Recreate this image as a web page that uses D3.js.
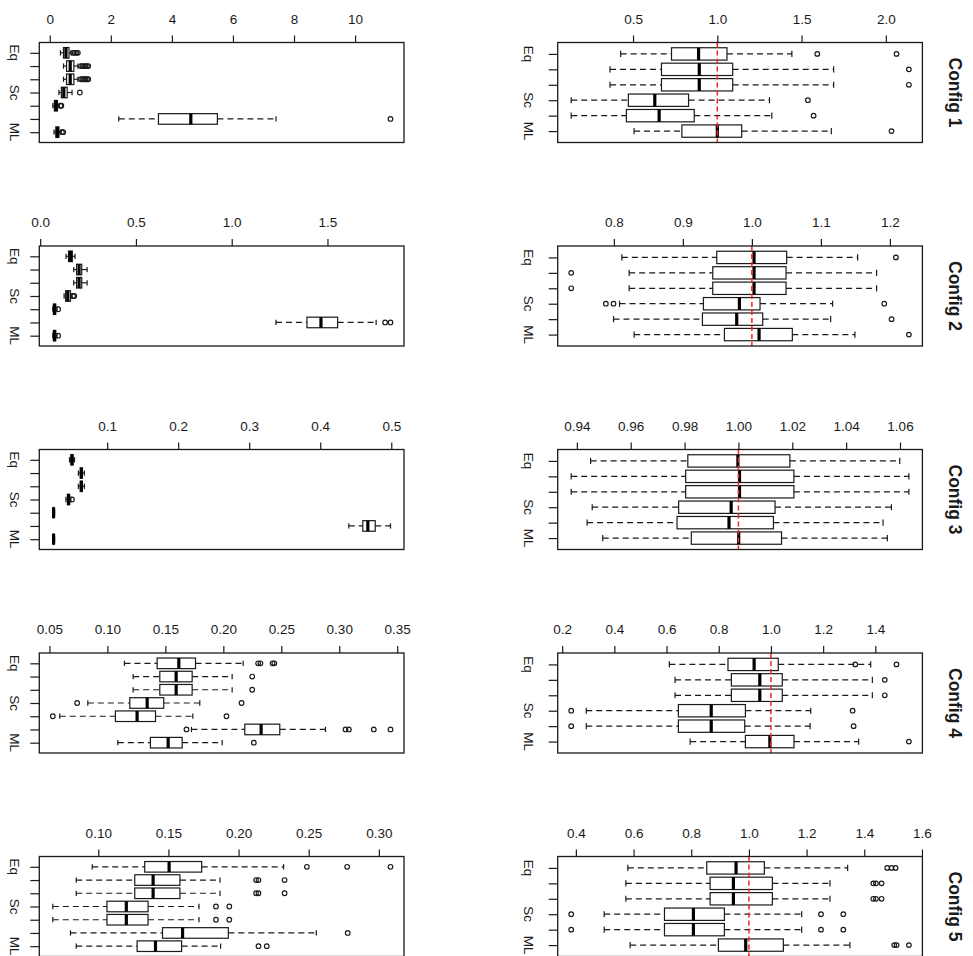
<!DOCTYPE html>
<html>
<head>
<meta charset="utf-8">
<script src="https://cdn.jsdelivr.net/npm/d3@7"></script>
<style>
  body { margin: 0; background: #fff; }
  svg { display: block; font-family: "Liberation Sans", Arial, Helvetica, sans-serif; }
</style>
</head>
<body>
<svg class="chart" width="973" height="956"></svg>
<script>
var configs = ["Config 1", "Config 2", "Config 3", "Config 4", "Config 5"];

// group labels, top to bottom (R only printed the ones that fit)
var absGroups   = ["Eq", "", "", "Sc", "", "", "ML"];
var ratioGroups = ["Eq", "", "", "Sc", "", "ML"];

// each row: [lower whisker, Q1, median, Q3, upper whisker, outliers]
var abs1 = [
  [0.35, 0.45, 0.53, 0.63, 0.70, [0.76, 0.82, 0.87, 0.92]],
  [0.45, 0.55, 0.67, 0.79, 0.92, [1.02, 1.07, 1.12, 1.17, 1.22, 1.26]],
  [0.45, 0.55, 0.67, 0.79, 0.92, [1.02, 1.07, 1.12, 1.17, 1.22, 1.26]],
  [0.30, 0.38, 0.46, 0.57, 0.73, [0.985]],
  [0.10, 0.15, 0.20, 0.25, 0.31, [0.35, 0.38]],
  [2.26, 3.56, 4.62, 5.49, 7.41, [11.16]],
  [0.14, 0.20, 0.25, 0.30, 0.36, [0.40, 0.44]]
];
var abs2 = [
  [0.135, 0.148, 0.158, 0.168, 0.182, []],
  [0.175, 0.190, 0.203, 0.217, 0.245, []],
  [0.175, 0.190, 0.203, 0.217, 0.245, []],
  [0.125, 0.133, 0.144, 0.158, 0.165, [0.172, 0.178]],
  [0.066, 0.069, 0.075, 0.081, 0.088, [0.094]],
  [1.231, 1.393, 1.466, 1.553, 1.754, [1.801, 1.829]],
  [0.066, 0.069, 0.075, 0.081, 0.088, [0.094]]
];
var abs3 = [
  [0.047, 0.049, 0.0505, 0.052, 0.054, []],
  [0.0595, 0.0622, 0.0637, 0.065, 0.068, []],
  [0.0595, 0.0622, 0.0637, 0.065, 0.068, []],
  [0.042, 0.044, 0.0458, 0.047, 0.049, [0.0505]],
  [0.0235, 0.024, 0.0246, 0.0252, 0.026, []],
  [0.4402, 0.4599, 0.467, 0.4774, 0.4989, []],
  [0.0235, 0.024, 0.0246, 0.0252, 0.026, []]
];
var abs4 = [
  [0.1147, 0.1429, 0.1616, 0.176, 0.2171, [0.230, 0.232, 0.2425, 0.244]],
  [0.1222, 0.1452, 0.1593, 0.1731, 0.2076, [0.2249]],
  [0.1222, 0.1452, 0.1593, 0.1731, 0.2076, [0.2249]],
  [0.0831, 0.1193, 0.1343, 0.1486, 0.1797, [0.0739, 0.2157]],
  [0.0589, 0.1069, 0.1256, 0.1415, 0.1737, [0.0529, 0.2027]],
  [0.1725, 0.2185, 0.2326, 0.2487, 0.2881, [0.1682, 0.3054, 0.3083, 0.3298, 0.3442]],
  [0.109, 0.1371, 0.1524, 0.1645, 0.199, [0.2263]]
];
var abs5 = [
  [0.0957, 0.1331, 0.1505, 0.1737, 0.2321, [0.2487, 0.2774, 0.3083]],
  [0.0843, 0.126, 0.1391, 0.1582, 0.1868, [0.2125, 0.2142, 0.2328]],
  [0.0843, 0.126, 0.1391, 0.1582, 0.1868, [0.2125, 0.2142, 0.2328]],
  [0.0676, 0.1062, 0.12, 0.1355, 0.1718, [0.1839, 0.1934]],
  [0.0676, 0.1062, 0.12, 0.1355, 0.1718, [0.1839, 0.1934]],
  [0.0802, 0.1458, 0.1601, 0.1927, 0.2554, [0.2778]],
  [0.0843, 0.1277, 0.1408, 0.1594, 0.1872, [0.2142, 0.2201]]
];

var ratio1 = [
  [0.4266, 0.7282, 0.8889, 1.0575, 1.4425, [1.5933, 2.0635]],
  [0.3631, 0.6687, 0.8929, 1.0913, 1.6905, [2.1369]],
  [0.3631, 0.6687, 0.8929, 1.0913, 1.6905, [2.1369]],
  [0.133, 0.4722, 0.629, 0.8294, 1.3095, [1.5377]],
  [0.133, 0.4603, 0.6548, 0.8631, 1.3234, [1.5714]],
  [0.506, 0.7897, 1.0, 1.1448, 1.6766, [2.0337]]
];
var ratio2 = [
  [0.8116, 0.9491, 1.0031, 1.0504, 1.1532, [1.2087]],
  [0.8222, 0.9433, 1.0031, 1.0495, 1.1807, [0.7382]],
  [0.8222, 0.9433, 1.0031, 1.0495, 1.1807, [0.7382]],
  [0.8082, 0.9298, 0.9819, 1.0118, 1.117, [0.7884, 0.7995, 1.1918]],
  [0.7995, 0.9283, 0.978, 1.0157, 1.1141, [1.2024]],
  [0.8294, 0.9602, 1.0104, 1.0586, 1.1493, [1.2275]]
];
var ratio3 = [
  [0.9451, 0.9812, 0.9998, 1.0191, 1.0599, []],
  [0.9379, 0.9804, 1.0004, 1.0206, 1.0633, []],
  [0.9379, 0.9804, 1.0004, 1.0206, 1.0633, []],
  [0.9457, 0.9778, 0.9973, 1.0136, 1.0568, []],
  [0.9438, 0.9772, 0.9965, 1.013, 1.0537, []],
  [0.9496, 0.9825, 1.0001, 1.016, 1.0553, []]
];
var ratio4 = [
  [0.6108, 0.8354, 0.9356, 1.028, 1.3822, [1.3232, 1.4811]],
  [0.6326, 0.8483, 0.9574, 1.0434, 1.3886, [1.4362]],
  [0.6326, 0.8483, 0.9574, 1.0434, 1.3886, [1.4362]],
  [0.2924, 0.6454, 0.7712, 0.9022, 1.1525, [0.2347, 1.313]],
  [0.2924, 0.6454, 0.7712, 0.8996, 1.15, [0.2347, 1.3168]],
  [0.6904, 0.9022, 0.9959, 1.0883, 1.3361, [1.5286]]
];
var ratio5 = [
  [0.5801, 0.8538, 0.9554, 1.0536, 1.3423, [1.4797, 1.4947, 1.5085]],
  [0.5732, 0.8654, 0.9462, 1.0813, 1.2811, [1.4312, 1.4404, 1.46]],
  [0.5732, 0.8654, 0.9462, 1.0813, 1.2811, [1.4312, 1.4404, 1.46]],
  [0.4982, 0.7072, 0.8076, 0.915, 1.1829, [0.3838, 1.2499, 1.3273]],
  [0.4982, 0.7072, 0.8076, 0.915, 1.1829, [0.3838, 1.2499, 1.3273]],
  [0.5882, 0.8942, 0.9889, 1.1194, 1.3503, [1.5039, 1.512, 1.5547]]
];

var absStats   = [abs1, abs2, abs3, abs4, abs5];
var ratioStats = [ratio1, ratio2, ratio3, ratio4, ratio5];

var absTicks = [
  ["0", "2", "4", "6", "8", "10"],
  ["0.0", "0.5", "1.0", "1.5"],
  ["0.1", "0.2", "0.3", "0.4", "0.5"],
  ["0.05", "0.10", "0.15", "0.20", "0.25", "0.30", "0.35"],
  ["0.10", "0.15", "0.20", "0.25", "0.30"]
];
var ratioTicks = [
  ["0.5", "1.0", "1.5", "2.0"],
  ["0.8", "0.9", "1.0", "1.1", "1.2"],
  ["0.94", "0.96", "0.98", "1.00", "1.02", "1.04", "1.06"],
  ["0.2", "0.4", "0.6", "0.8", "1.0", "1.2", "1.4"],
  ["0.4", "0.6", "0.8", "1.0", "1.2", "1.4", "1.6"]
];

var refValue = 1;

(function() {
  var svg = d3.select(".chart");

  var plotW = 364.7, plotH = 100,
      colX = [39.3, 557.7],
      rowTop = 42.5, rowStep = 203.5,
      labelGap = [25, 29.5],
      ink = "#1a1a1a";

  configs.forEach(function(name, r) {
    var top = rowTop + r * rowStep;
    drawPanel(colX[0], top, absStats[r], absGroups, absTicks[r], false, labelGap[0]);
    drawPanel(colX[1], top, ratioStats[r], ratioGroups, ratioTicks[r], true, labelGap[1]);

    // panel title on the right, turned like the rest of the R plot
    svg.append("text")
      .attr("transform", "translate(955," + (top + plotH / 2) + ") rotate(90)")
      .attr("text-anchor", "middle")
      .attr("dominant-baseline", "central")
      .style("font-size", "17.5px")
      .style("font-weight", "bold")
      .attr("fill", ink)
      .text(name);
  });

  function drawPanel(left, top, stats, groups, ticks, showRef, gap) {
    var n = stats.length;
    var g = svg.append("g")
      .attr("transform", "translate(" + left + "," + top + ")");

    // R style range: data extent padded 4% on each side
    var lo = d3.min(stats, function(d) { return d3.min([d[0]].concat(d[5])); });
    var hi = d3.max(stats, function(d) { return d3.max([d[4]].concat(d[5])); });
    var pad = (hi - lo) * 0.04;

    var x = d3.scaleLinear()
      .domain([lo - pad, hi + pad])
      .range([0, plotW]);

    var y = d3.scaleLinear()
      .domain([0.5 - 0.04 * n, n + 0.5 + 0.04 * n])
      .range([0, plotH]);

    var half = y(1.4) - y(1),
        staple = y(1.2) - y(1);

    // top axis
    var xAxis = d3.axisTop(x)
      .tickValues(ticks.map(Number))
      .tickFormat(function(d, i) { return ticks[i]; })
      .tickSize(7)
      .tickPadding(12);

    var ax = g.append("g").call(xAxis);
    ax.select(".domain").remove();
    ax.selectAll("line").attr("stroke", ink).attr("stroke-width", 1.2);
    ax.selectAll("text")
      .attr("fill", ink)
      .style("font-size", "13.5px")
      .style("font-family", "inherit");

    // left axis ticks
    var yAxis = d3.axisLeft(y)
      .tickValues(d3.range(1, n + 1))
      .tickFormat("")
      .tickSize(9);

    var ay = g.append("g").call(yAxis);
    ay.select(".domain").remove();
    ay.selectAll("line").attr("stroke", ink).attr("stroke-width", 1.2);

    g.selectAll(".glabel")
      .data(groups)
      .enter().append("text")
      .attr("class", "glabel")
      .attr("transform", function(d, i) {
        return "translate(" + (-gap) + "," + y(i + 1) + ") rotate(90)";
      })
      .attr("text-anchor", "middle")
      .attr("dominant-baseline", "central")
      .style("font-size", "13.5px")
      .attr("fill", ink)
      .text(function(d) { return d; });

    var box = g.selectAll(".box")
      .data(stats)
      .enter().append("g")
      .attr("class", "box")
      .attr("transform", function(d, i) { return "translate(0," + y(i + 1) + ")"; });

    // whiskers
    box.append("line")
      .attr("x1", function(d) { return x(d[0]); })
      .attr("x2", function(d) { return x(d[1]); })
      .attr("stroke", ink)
      .attr("stroke-width", 1.2)
      .attr("stroke-dasharray", "6,4");
    box.append("line")
      .attr("x1", function(d) { return x(d[3]); })
      .attr("x2", function(d) { return x(d[4]); })
      .attr("stroke", ink)
      .attr("stroke-width", 1.2)
      .attr("stroke-dasharray", "6,4");

    // staples
    [0, 4].forEach(function(k) {
      box.append("line")
        .attr("x1", function(d) { return x(d[k]); })
        .attr("x2", function(d) { return x(d[k]); })
        .attr("y1", -staple)
        .attr("y2", staple)
        .attr("stroke", ink)
        .attr("stroke-width", 1.2);
    });

    box.append("rect")
      .attr("x", function(d) { return x(d[1]); })
      .attr("width", function(d) { return x(d[3]) - x(d[1]); })
      .attr("y", -half)
      .attr("height", 2 * half)
      .attr("fill", "none")
      .attr("stroke", ink)
      .attr("stroke-width", 1.2);

    box.append("line")
      .attr("x1", function(d) { return x(d[2]); })
      .attr("x2", function(d) { return x(d[2]); })
      .attr("y1", -half)
      .attr("y2", half)
      .attr("stroke", "#000")
      .attr("stroke-width", 3.2);

    box.selectAll("circle")
      .data(function(d) { return d[5]; })
      .enter().append("circle")
      .attr("cx", function(d) { return x(d); })
      .attr("r", 2.3)
      .attr("fill", "none")
      .attr("stroke", ink)
      .attr("stroke-width", 1.2);

    if (showRef) {
      g.append("line")
        .attr("x1", x(refValue))
        .attr("x2", x(refValue))
        .attr("y1", 0)
        .attr("y2", plotH)
        .attr("stroke", "#ff2020")
        .attr("stroke-width", 1.5)
        .attr("stroke-dasharray", "5,3");
    }

    // plot frame
    g.append("rect")
      .attr("width", plotW)
      .attr("height", plotH)
      .attr("fill", "none")
      .attr("stroke", ink)
      .attr("stroke-width", 1.3);
  }
})();
</script>
</body>
</html>
